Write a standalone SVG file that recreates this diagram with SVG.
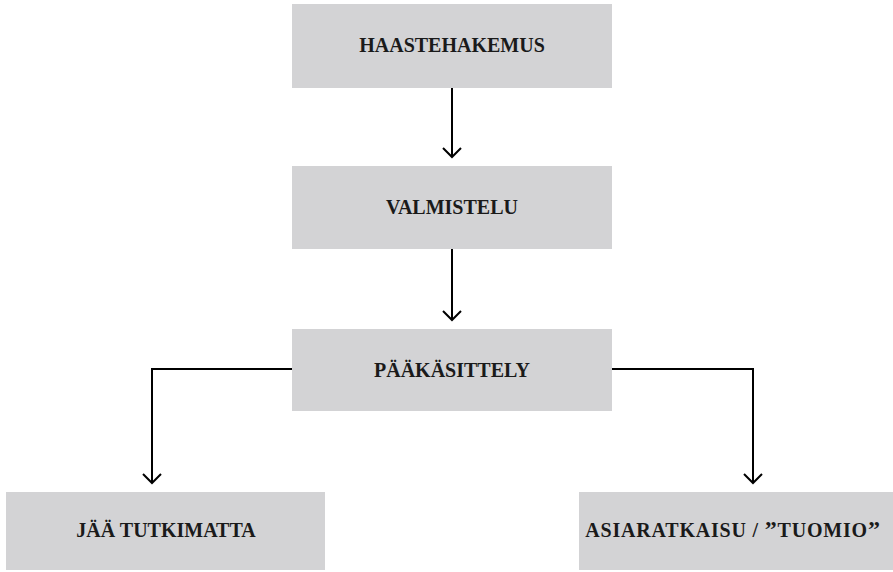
<svg xmlns="http://www.w3.org/2000/svg" width="893" height="572" viewBox="0 0 893 572">
  <style>
    .box { fill: #d3d3d5; }
    .label { font-family: "Liberation Serif", "DejaVu Serif", serif; font-weight: bold; font-size: 20px; fill: #1a1a1a; text-anchor: middle; }
    .wide { letter-spacing: 0.8px; }
    .quote { font-size: 24px; }
    .edge { fill: none; stroke: #000; stroke-width: 2; }
  </style>
  <defs>
    <!-- open V arrowhead, drawn pointing along +x -->
    <marker id="arrow" viewBox="0 0 20 20" refX="18" refY="10" markerWidth="20" markerHeight="20" markerUnits="userSpaceOnUse" orient="auto">
      <path d="M9 1 L18 10 L9 19" fill="none" stroke="#000" stroke-width="2"/>
    </marker>
  </defs>
  <rect width="893" height="572" fill="#fff"/>

  <g id="haastehakemus">
    <rect class="box" x="292" y="4" width="320" height="84"/>
    <text class="label" x="452" y="52">HAASTEHAKEMUS</text>
  </g>
  <g id="valmistelu">
    <rect class="box" x="292" y="166" width="320" height="83"/>
    <text class="label" x="452" y="214">VALMISTELU</text>
  </g>
  <g id="paakasittely">
    <rect class="box" x="292" y="329" width="320" height="82"/>
    <text class="label" x="452" y="377">PÄÄKÄSITTELY</text>
  </g>
  <g id="jaa-tutkimatta">
    <rect class="box" x="6" y="492" width="319" height="78"/>
    <text class="label" x="166" y="537">JÄÄ TUTKIMATTA</text>
  </g>
  <g id="asiaratkaisu">
    <rect class="box" x="579" y="492" width="314" height="78"/>
    <text class="label wide" x="733" y="537">ASIARATKAISU / <tspan class="quote">”</tspan>TUOMIO<tspan class="quote">”</tspan></text>
  </g>

  <g id="connectors">
    <path class="edge" d="M452 88 V157" marker-end="url(#arrow)"/>
    <path class="edge" d="M452 249 V320" marker-end="url(#arrow)"/>
    <path class="edge" d="M292 369 H152 V483" marker-end="url(#arrow)"/>
    <path class="edge" d="M612 369 H753 V483" marker-end="url(#arrow)"/>
  </g>
</svg>
